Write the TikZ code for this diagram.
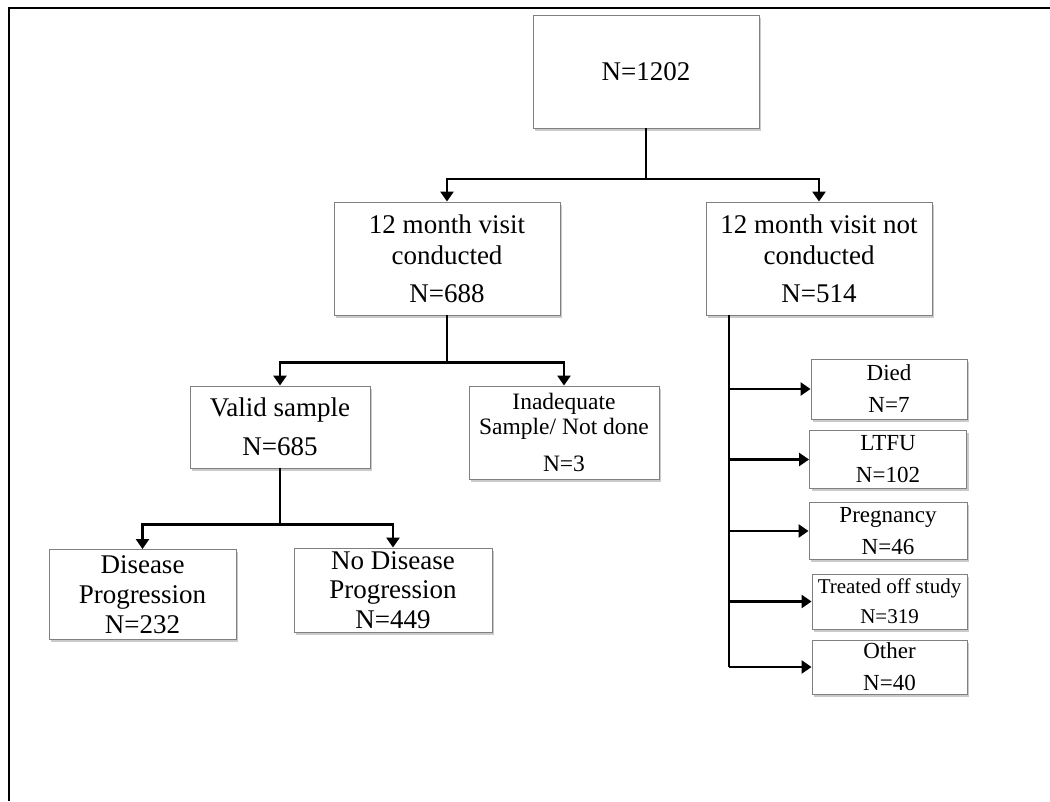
\documentclass[tikz,border=0pt]{standalone}
\usepackage{fontspec}
\setmainfont{Liberation Serif}
\usetikzlibrary{arrows.meta,shadows}
\tikzset{
  box/.style={draw=black!50, line width=0.9pt, fill=white, inner sep=0pt, align=center,
    drop shadow={shadow xshift=2pt, shadow yshift=-2.5pt, opacity=0.35, fill=black!60}},
  big/.style={font=\fontsize{27}{31}\selectfont},
  bigb/.style={font=\fontsize{27}{29.5}\selectfont},
  mid/.style={font=\fontsize{23.5}{25}\selectfont},
  sml/.style={font=\fontsize{23}{32}\selectfont},
  tiny/.style={font=\fontsize{21}{30}\selectfont},
  conn/.style={line width=2.7pt, black},
  arr/.style={conn, -{Triangle[length=10pt,width=13pt]}},
}
\begin{document}
\begin{tikzpicture}[x=1pt,y=-1pt]
\useasboundingbox (0,0) rectangle (1050,801);
\draw[line width=2pt] (9,801) -- (9,8) -- (1050,8);

\node[box,big,minimum width=226pt,minimum height=113pt] (top) at (646,71.5) {N=1202};
\node[box,big,minimum width=226pt,minimum height=113pt] (c12) at (447,258.5)
  {12 month visit\\conducted\\[7pt]N=688};
\node[box,big,minimum width=226pt,minimum height=113pt] (nc12) at (819,258.5)
  {12 month visit not\\conducted\\[7pt]N=514};
\node[box,big,minimum width=180pt,minimum height=82pt] (valid) at (280,427)
  {Valid sample\\[8pt]N=685};
\node[box,mid,minimum width=190pt,minimum height=93pt] (inad) at (564,432.5)
  {Inadequate\\Sample/ Not done\\[12pt]N=3};
\node[box,big,font=\fontsize{27}{30}\selectfont,minimum width=187pt,minimum height=90pt] (dis) at (142.5,594.5)
  {Disease\\Progression\\N=232};
\node[box,bigb,minimum width=198pt,minimum height=84pt] (nodis) at (393,590)
  {No Disease\\Progression\\N=449};
\node[box,sml,minimum width=156pt,minimum height=60pt] (died) at (889,389) {Died\\N=7};
\node[box,sml,minimum width=157pt,minimum height=58pt] (ltfu) at (888,459.5) {LTFU\\N=102};
\node[box,sml,minimum width=158pt,minimum height=57pt] (preg) at (888,531) {Pregnancy\\N=46};
\node[box,tiny,minimum width=155pt,minimum height=55pt] (treat) at (889.5,601.5) {Treated off study\\N=319};
\node[box,sml,minimum width=155pt,minimum height=54pt] (other) at (889.5,667) {Other\\N=40};

% top split
\coordinate (j1) at (646,179);
\draw[conn] (top.south) -- (j1);
\draw[arr] (j1) -| (c12.north);
\draw[arr] (j1) -| (nc12.north);

% conducted split
\coordinate (j2) at (447,362.7);
\draw[conn] (c12.south) -- (j2);
\draw[arr] (j2) -| (valid.north);
\draw[arr] (j2) -| (inad.north);

% valid split
\coordinate (j3) at (280,524.6);
\draw[conn] (valid.south) -- (j3);
\draw[arr] (j3) -| (dis.north);
\draw[arr] (j3) -| (nodis.north);

% not conducted branches
\coordinate (rs) at (729,315);
\draw[conn] (rs) -- (rs |- other.west);
\draw[arr] (rs |- died.west) -- (died.west);
\draw[arr] (rs |- ltfu.west) -- (ltfu.west);
\draw[arr] (rs |- preg.west) -- (preg.west);
\draw[arr] (rs |- treat.west) -- (treat.west);
\draw[arr] (rs |- other.west) -- (other.west);
\end{tikzpicture}
\end{document}
